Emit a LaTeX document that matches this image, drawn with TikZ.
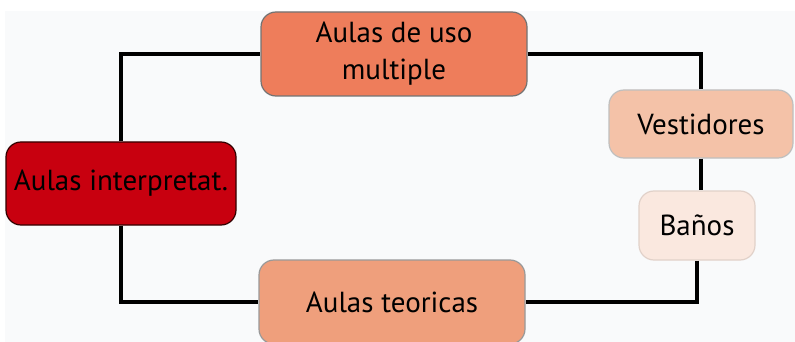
\documentclass[tikz,border=0pt]{standalone}
\usepackage{fontspec}
\setmainfont{PT Sans}
\definecolor{bggray}{HTML}{F9FAFB}
\definecolor{interpred}{HTML}{C8000F}
\definecolor{usoorange}{HTML}{EE7D5B}
\definecolor{teosalmon}{HTML}{EF9F7C}
\definecolor{vestpeach}{HTML}{F4C2A8}
\definecolor{banopink}{HTML}{FAE8DF}
\begin{document}
\begin{tikzpicture}[
    x=1pt,y=-1pt,
    room/.style={rounded corners=15pt,align=center,inner sep=1pt,font=\fontsize{29}{37}\selectfont,line width=1.2pt},
    link/.style={line width=3.5pt}
]
\useasboundingbox (0,0) rectangle (795,342);
\fill[white] (0,0) rectangle (795,342);
\fill[bggray] (5,11) rectangle (795,342);

\node[room,fill=interpred,draw=black!80!red,minimum width=230pt,minimum height=83pt] (interp) at (121,183.5) {Aulas interpretat.};
\node[room,fill=usoorange,draw=black!55,minimum width=266pt,minimum height=84pt] (uso) at (394,54) {Aulas de uso\\multiple};
\node[room,fill=teosalmon,draw=black!40,minimum width=266pt,minimum height=84pt] (teo) at (392,302) {Aulas teoricas};
\node[room,fill=vestpeach,draw=black!25,minimum width=184pt,minimum height=68pt] (vest) at (701,124) {Vestidores};
\node[room,fill=banopink,draw=banopink!90!black,minimum width=116pt,minimum height=69pt] (banos) at (697,225.5) {Baños};

\draw[link] (interp.north) |- (uso.west);
\draw[link] (uso.east) -| (vest.north);
\draw[link] (vest.south) -- (vest.south |- banos.north);
\draw[link] (banos.south) |- (teo.east);
\draw[link] (interp.south) |- (teo.west);
\end{tikzpicture}
\end{document}
